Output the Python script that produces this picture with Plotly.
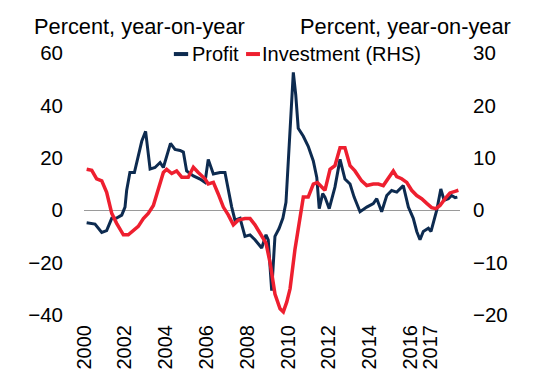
import plotly.graph_objects as go

# ---- data ----
profit_x = [2000.13, 2000.54, 2000.87, 2001.11, 2001.36, 2001.60, 2001.85, 2002.01, 2002.09, 2002.25,
            2002.47, 2002.66, 2002.83, 2003.02, 2003.24, 2003.48, 2003.73, 2003.89, 2004.24, 2004.46,
            2004.71, 2004.87, 2005.03, 2005.36, 2005.69, 2005.93, 2006.09, 2006.34, 2006.67, 2006.91,
            2007.07, 2007.24, 2007.40, 2007.65, 2007.89, 2008.14, 2008.38, 2008.71, 2008.92, 2009.03,
            2009.20, 2009.36, 2009.56, 2009.75, 2009.90, 2010.02, 2010.15, 2010.26, 2010.38, 2010.50,
            2010.75, 2010.99, 2011.24, 2011.41, 2011.53, 2011.70, 2011.81, 2012.02, 2012.30, 2012.55,
            2012.79, 2013.04, 2013.24, 2013.53, 2013.86, 2014.18, 2014.35, 2014.59, 2014.84, 2015.08,
            2015.33, 2015.65, 2015.90, 2016.14, 2016.31, 2016.47, 2016.63, 2016.88, 2017.01, 2017.29,
            2017.49, 2017.65, 2017.86, 2018.02, 2018.19, 2018.30]
profit = [-4.8, -5.3, -8.5, -7.8, -3.1, -3.0, -1.9, 1.2, 7.5, 14.4,
          14.4, 21.3, 26.3, 30.1, 15.7, 16.3, 18.2, 16.3, 25.5, 23.2,
          22.8, 22.2, 15.0, 13.1, 11.9, 10.6, 19.4, 13.8, 14.4, 14.4,
          7.5, 1.2, -3.8, -3.1, -10.0, -9.4, -11.3, -14.4, -9.4, -11.3,
          -30.7, -10.0, -7.0, -3.0, 3.0, 18.0, 36.0, 52.6, 43.9, 31.3,
          28.2, 24.4, 18.8, 12.5, 0.6, 6.3, 5.0, 0.6, 8.8, 19.4,
          11.9, 10.0, 5.0, -0.6, 1.2, 2.5, 4.4, -0.6, 5.6, 7.5,
          6.9, 9.4, 1.2, -3.1, -8.1, -11.3, -8.1, -6.9, -8.1, 0.0,
          8.1, 3.8, 4.4, 5.6, 4.8, 5.0]

invest_x = [2000.13, 2000.38, 2000.62, 2000.87, 2001.11, 2001.36, 2001.60, 2001.93, 2002.17, 2002.42,
            2002.66, 2002.91, 2003.15, 2003.40, 2003.64, 2003.89, 2004.05, 2004.30, 2004.54, 2004.79,
            2005.11, 2005.36, 2005.60, 2005.93, 2006.09, 2006.34, 2006.58, 2006.83, 2007.07, 2007.32,
            2007.56, 2007.89, 2008.14, 2008.38, 2008.63, 2008.92, 2009.12, 2009.36, 2009.61, 2009.77,
            2009.94, 2010.10, 2010.34, 2010.59, 2010.75, 2010.99, 2011.24, 2011.44, 2011.65, 2011.81,
            2012.06, 2012.30, 2012.55, 2012.79, 2013.04, 2013.28, 2013.61, 2013.86, 2014.18, 2014.43,
            2014.67, 2014.92, 2015.16, 2015.33, 2015.57, 2015.82, 2016.06, 2016.31, 2016.55, 2016.80,
            2017.04, 2017.25, 2017.45, 2017.70, 2017.94, 2018.19, 2018.35]
investment = [7.8, 7.6, 6.0, 5.6, 3.4, -0.6, -2.5, -4.7, -4.7, -3.8,
              -3.1, -1.6, -0.6, 0.9, 3.8, 7.2, 7.8, 7.0, 7.5, 6.3,
              6.3, 8.2, 7.2, 6.0, 5.0, 5.3, 3.1, 0.6, -0.9, -2.8,
              -1.9, -1.6, -1.6, -2.8, -4.4, -6.3, -10.0, -16.0, -18.8, -19.4,
              -17.5, -15.0, -7.5, -1.3, 2.5, 2.5, 5.0, 5.3, 4.4, 3.8,
              7.8, 8.5, 11.9, 11.9, 8.5, 7.5, 5.6, 4.7, 5.0, 5.0,
              4.7, 6.0, 7.5, 6.4, 6.0, 5.3, 3.8, 2.8, 2.2, 1.3,
              0.5, 0.3, 0.9, 2.2, 3.3, 3.6, 3.8]

x_ticks = [2000, 2002, 2004, 2006, 2008, 2010, 2012, 2014, 2016, 2017]
x_tick_labels = ["2000", "2002", "2004", "2006", "2008", "2010", "2012", "2014", "2016", "2017"]
left_ticks = [-40, -20, 0, 20, 40, 60]
right_ticks = [-20, -10, 0, 10, 20, 30]
series_names = ["Profit", "Investment (RHS)"]
axis_title = "Percent, year-on-year"

assert len(profit_x) == len(profit)
assert len(invest_x) == len(investment)

NAVY = "#0d2b50"
RED = "#ee1f2f"
FONT = "Arial, Liberation Sans, sans-serif"

fig = go.Figure()
fig.add_trace(go.Scatter(x=profit_x, y=profit, name=series_names[0], mode="lines",
                         line=dict(color=NAVY, width=3), yaxis="y"))
fig.add_trace(go.Scatter(x=invest_x, y=investment, name=series_names[1], mode="lines",
                         line=dict(color=RED, width=3.5), yaxis="y2"))

# the page body adds an 8px offset, so margins are reduced by 8 on the top/left
fig.update_layout(
    width=542, height=391,
    margin=dict(l=76, r=90, t=45, b=84, pad=0),
    paper_bgcolor="white", plot_bgcolor="white",
    showlegend=False,
    font=dict(family=FONT, size=20, color="#000"),
    xaxis=dict(range=[2000, 2018.43], tickvals=x_ticks, ticktext=x_tick_labels,
               tickangle=-90, showgrid=False, zeroline=False, showline=False,
               ticks="", ticklabelstandoff=5, tickfont=dict(size=20)),
    yaxis=dict(range=[-40, 60], tickvals=left_ticks, showgrid=False,
               zeroline=True, zerolinecolor="#9a9a9a", zerolinewidth=1,
               showline=False, ticks="", ticklabelstandoff=20, tickfont=dict(size=20.5)),
    yaxis2=dict(range=[-20, 30], tickvals=right_ticks, overlaying="y", side="right",
                showgrid=False, zeroline=False, showline=False, ticks="",
                ticklabelstandoff=12, tickfont=dict(size=20.5)),
)

# axis titles (above each axis)
fig.add_annotation(text=axis_title, xref="paper", yref="paper", x=-0.138, y=1.103,
                   xanchor="left", yanchor="middle", showarrow=False, font=dict(size=21.8))
fig.add_annotation(text=axis_title, xref="paper", yref="paper", x=1.14, y=1.103,
                   xanchor="right", yanchor="middle", showarrow=False, font=dict(size=21.8))

# legend (swatches + labels) at the top of the plot
ly = 0.996
fig.add_shape(type="line", xref="paper", yref="paper", x0=0.239, x1=0.277, y0=ly, y1=ly,
              line=dict(color=NAVY, width=4))
fig.add_annotation(text=series_names[0], xref="paper", yref="paper", x=0.281, y=ly,
                   xanchor="left", yanchor="middle", showarrow=False, font=dict(size=20))
fig.add_shape(type="line", xref="paper", yref="paper", x0=0.431, x1=0.468, y0=ly, y1=ly,
              line=dict(color=RED, width=4))
fig.add_annotation(text=series_names[1], xref="paper", yref="paper", x=0.469, y=ly,
                   xanchor="left", yanchor="middle", showarrow=False, font=dict(size=20))

fig.write_html("out.html")
